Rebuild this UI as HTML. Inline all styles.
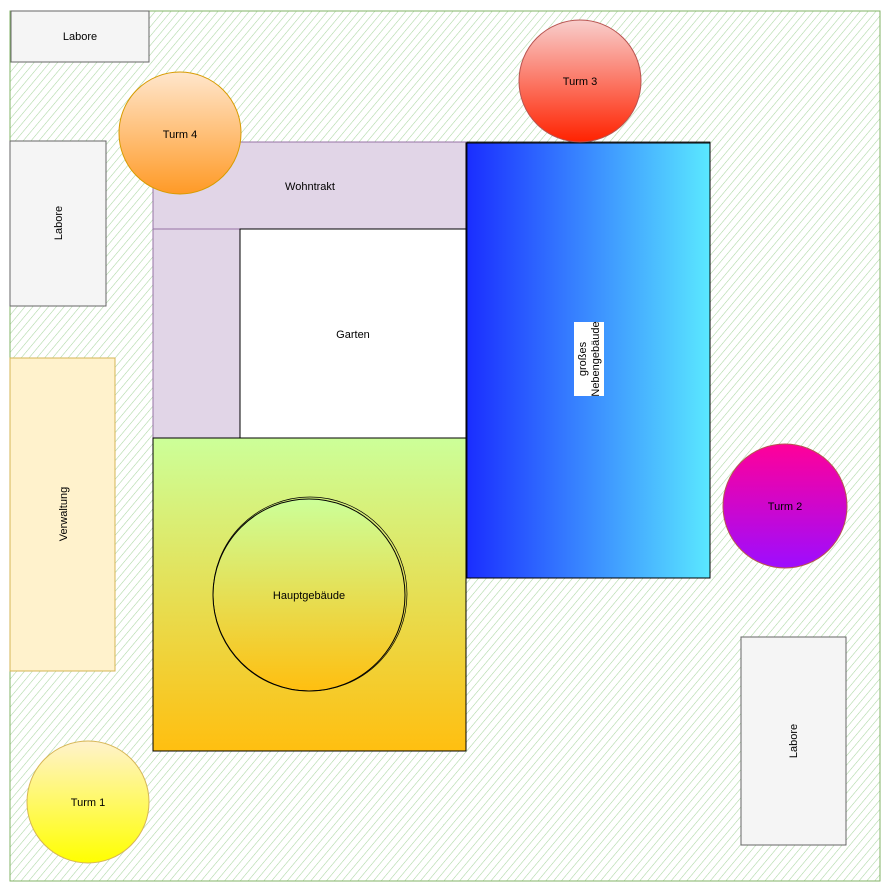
<!DOCTYPE html>
<html><head><meta charset="utf-8"><style>
html,body{margin:0;padding:0;background:#fff;width:892px;height:891px;overflow:hidden}
text{font-family:"Liberation Sans",sans-serif;font-size:11px;fill:#000}
</style></head><body>
<svg width="892" height="891" viewBox="0 0 892 891" xmlns="http://www.w3.org/2000/svg">
<defs>
<pattern id="hatch" width="6" height="6" patternUnits="userSpaceOnUse" patternTransform="rotate(40)">
<line x1="0" y1="0" x2="0" y2="6" stroke="#a9d6a0" stroke-width="1.1"/>
</pattern>
<linearGradient id="gOrange" x1="0" y1="0" x2="0" y2="1"><stop offset="0" stop-color="#ffe6cc"/><stop offset="1" stop-color="#ff9a26"/></linearGradient>
<linearGradient id="gRed" x1="0" y1="0" x2="0" y2="1"><stop offset="0" stop-color="#f8cecc"/><stop offset="1" stop-color="#ff2200"/></linearGradient>
<linearGradient id="gBlue" x1="0" y1="0" x2="1" y2="0"><stop offset="0" stop-color="#1a2dff"/><stop offset="1" stop-color="#5ae8ff"/></linearGradient>
<linearGradient id="gMain" x1="0" y1="0" x2="0" y2="1"><stop offset="0" stop-color="#ccff99"/><stop offset="1" stop-color="#ffbf10"/></linearGradient>
<linearGradient id="gPink" x1="0" y1="0" x2="0" y2="1"><stop offset="0" stop-color="#ff0099"/><stop offset="1" stop-color="#9d0dff"/></linearGradient>
<linearGradient id="gYellow" x1="0" y1="0" x2="0" y2="1"><stop offset="0" stop-color="#fff2cc"/><stop offset="1" stop-color="#ffff00"/></linearGradient>
</defs>
<rect x="10" y="11" width="870" height="870" fill="url(#hatch)" stroke="#82b366" stroke-width="1"/>

<g><rect x="11" y="11" width="138" height="51" fill="#f5f5f5" stroke="#666"/><text x="80" y="40" text-anchor="middle">Labore</text></g>
<g><rect x="10" y="141" width="96" height="165" fill="#f5f5f5" stroke="#666"/><text transform="translate(62,223) rotate(-90)" text-anchor="middle">Labore</text></g>
<g><rect x="10" y="358" width="105" height="313" fill="#fff2cc" stroke="#d6b656"/><text transform="translate(67,514) rotate(-90)" text-anchor="middle">Verwaltung</text></g>
<g><rect x="741" y="637" width="105" height="208" fill="#f5f5f5" stroke="#666"/><text transform="translate(797,741) rotate(-90)" text-anchor="middle">Labore</text></g>

<g><rect x="153" y="142" width="313" height="87" fill="#e1d5e7" stroke="#9673a6"/><rect x="153" y="229" width="87" height="209" fill="#e1d5e7" stroke="#9673a6"/><text x="310" y="190" text-anchor="middle">Wohntrakt</text></g>
<g><rect x="240" y="229" width="226" height="209" fill="#fff" stroke="#000"/><text x="353" y="338" text-anchor="middle">Garten</text></g>

<g><rect x="466" y="143" width="244" height="435" fill="url(#gBlue)" stroke="#000"/><rect x="467" y="142" width="243" height="436" fill="none" stroke="#000" stroke-width="0.8"/>
<rect x="574" y="322" width="30" height="74" fill="#fff"/>
<text transform="translate(586,359) rotate(-90)" text-anchor="middle">großes</text>
<text transform="translate(599,359) rotate(-90)" text-anchor="middle">Nebengebäude</text></g>

<g><rect x="153" y="438" width="313" height="313" fill="url(#gMain)" stroke="#000"/></g>
<g><circle cx="309" cy="595" r="96" fill="url(#gMain)" stroke="#000"/><circle cx="310" cy="594" r="97" fill="none" stroke="#000" stroke-width="0.7"/><text x="309" y="599" text-anchor="middle">Hauptgebäude</text></g>

<g><circle cx="180" cy="133" r="61" fill="url(#gOrange)" stroke="#d79b00"/><text x="180" y="138" text-anchor="middle">Turm 4</text></g>
<g><circle cx="580" cy="81" r="61" fill="url(#gRed)" stroke="#b85450"/><text x="580" y="85" text-anchor="middle">Turm 3</text></g>
<g><circle cx="785" cy="506" r="62" fill="url(#gPink)" stroke="#b85450"/><text x="785" y="510" text-anchor="middle">Turm 2</text></g>
<g><circle cx="88" cy="802" r="61" fill="url(#gYellow)" stroke="#d6b656"/><text x="88" y="806" text-anchor="middle">Turm 1</text></g>
</svg>
</body></html>
